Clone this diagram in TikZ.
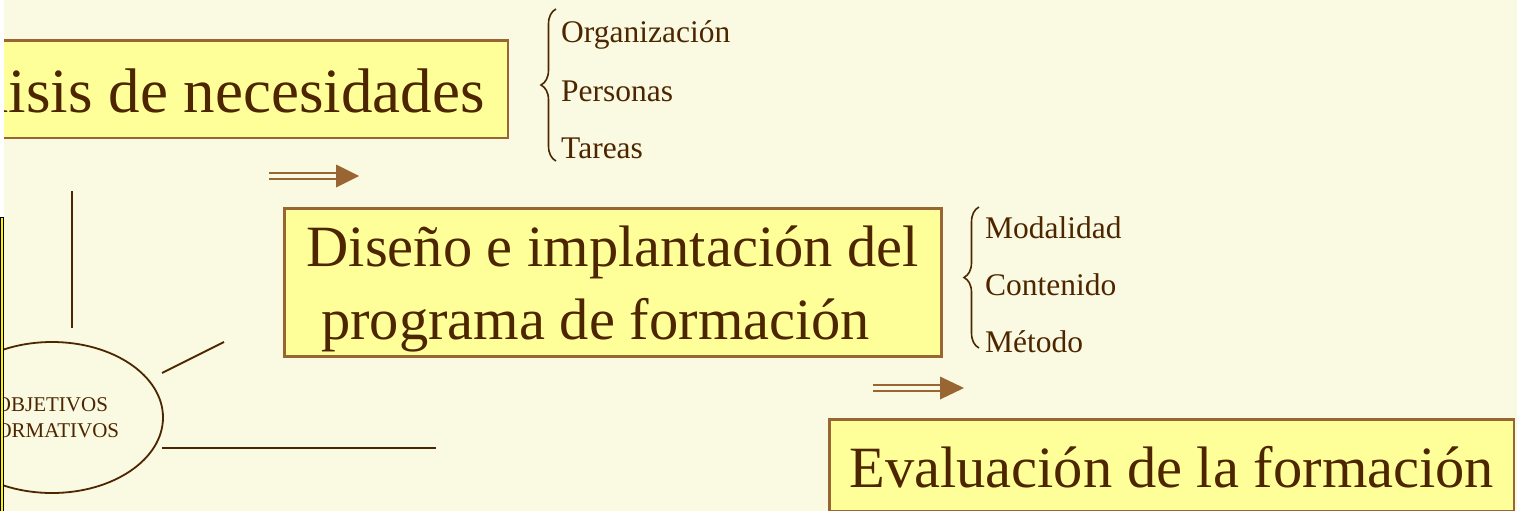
\documentclass[tikz,border=0pt]{standalone}
\usepackage{fontspec}
\setmainfont{Liberation Serif}
\usetikzlibrary{shapes.geometric,decorations.pathreplacing}
\definecolor{fondo}{RGB}{250,250,226}
\definecolor{amarillo}{RGB}{255,255,153}
\definecolor{borde}{RGB}{153,102,51}
\definecolor{texto}{RGB}{77,38,0}
\begin{document}
\begin{tikzpicture}[x=1pt,y=-1pt,
		rotulo/.style={draw=borde, fill=amarillo, line width=2.5pt, text=texto},
		objetivo/.style={ellipse, draw=texto, line width=1.8pt, minimum width=222pt,
			minimum height=151pt, inner sep=0pt, align=center, text=texto,
			font=\fontsize{21}{26}\selectfont},
		linea/.style={draw=texto, line width=2pt},
		llave/.style={draw=texto, line width=1.6pt, decorate, decoration={brace,amplitude=15pt}},
		apartado/.style={anchor=base west, inner sep=0pt, text=texto,
			font=\fontsize{31.5}{38}\selectfont},
		flecha/.style={draw=borde, double=fondo, double distance=3.3pt, line width=2.1pt}]
	\useasboundingbox (0,0) rectangle (1517,511);
	\clip (0,0) rectangle (1517,511);
	\fill[fondo] (0,0) rectangle (1517,511);

	% cajas
	\node[rotulo, anchor=east, inner xsep=23pt, inner ysep=9.75pt,
		text height=62pt, text depth=16pt,
		font=\fontsize{63}{75}\selectfont] (analisis) at (509,89.25) {Análisis de necesidades};
	\node[rotulo, anchor=north west, align=left, inner sep=0pt,
		minimum width=657pt, minimum height=148pt,
		font=\fontsize{58.5}{73}\selectfont] (diseno) at (283,207)
		{\rule{0pt}{54pt}Diseño e implantación del\\\hspace*{0.25em}programa de formación};
	\node[rotulo, anchor=north west, inner xsep=20pt, inner ysep=10pt,
		text height=58pt, text depth=14pt,
		font=\fontsize{58.5}{73}\selectfont] (evaluacion) at (828,418) {Evaluación de la formación};

	% llaves
	\node[apartado] (org) at (561,43) {Organización};
	\node[apartado] (per) at (561,101) {Personas};
	\node[apartado] (tar) at (561,158) {Tareas};
	\draw[llave] (556,161) -- (556,9);

	\node[apartado] (mod) at (985,238) {Modalidad};
	\node[apartado] (con) at (985,295) {Contenido};
	\node[apartado] (met) at (985,352) {Método};
	\draw[llave] (979,348) -- (979,207);

	% flechas
	\draw[flecha] (269,176) -- (338,176);
	\fill[borde] (336,164.5) -- (359,176) -- (336,187.5) -- cycle;
	\draw[flecha] (873,388) -- (942,388);
	\fill[borde] (940,376.5) -- (964,388) -- (940,399.5) -- cycle;

	% objetivos
	\node[objetivo] (obj) at (52,417.5) {OBJETIVOS\\FORMATIVOS};
	\coordinate (v1) at (72,328);
	\coordinate (v2) at (72,191);
	\coordinate (d1) at (162,373);
	\coordinate (d2) at (224,342);
	\coordinate (h1) at (162,448);
	\coordinate (h2) at (436,448);
	\draw[linea] (v1) -- (v2);
	\draw[linea] (d1) -- (d2);
	\draw[linea] (h1) -- (h2);

	% borde izquierdo
	\fill[white] (0,0) rectangle (4,217);
	\draw[fill=yellow, draw=black, line width=1pt] (0.5,217) rectangle (3.5,520);
\end{tikzpicture}
\end{document}
